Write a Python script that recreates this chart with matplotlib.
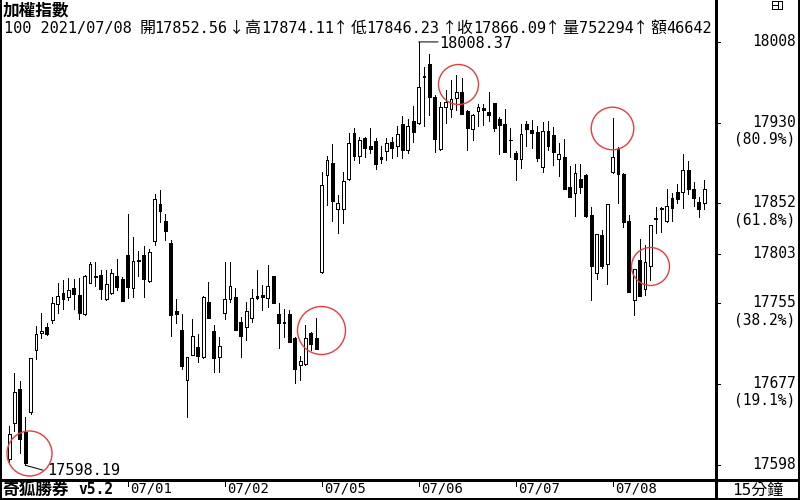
import matplotlib
matplotlib.use('Agg')
import matplotlib.pyplot as plt
from matplotlib.patches import Rectangle
from matplotlib.lines import Line2D

plt.rcParams['font.family'] = ['DejaVu Sans Mono', 'Noto Sans CJK TC']

# ---------------- data (15-minute bars) ----------------
opens = [17604, 17639, 17672, 17630, 17650, 17710, 17726, 17732, 17739, 17754,
         17765, 17761, 17770, 17763, 17745, 17775, 17781, 17783, 17759, 17765,
         17782, 17779, 17802, 17770, 17797, 17802, 17777, 17815, 17851, 17835,
         17814, 17748, 17729, 17681, 17705, 17713, 17703, 17756, 17728, 17703,
         17746, 17759, 17761, 17737, 17732, 17741, 17762, 17763, 17760, 17782,
         17745, 17737, 17745, 17721, 17695, 17696, 17726, 17721, 17785, 17879,
         17891, 17846, 17846, 17876, 17920, 17898, 17915, 17908, 17912, 17897,
         17903, 17911, 17908, 17929, 17904, 17932, 17930, 17975, 17987, 17955,
         17905, 17945, 17943, 17954, 17960, 17941, 17924, 17941, 17944, 17940,
         17949, 17934, 17929, 17913, 17901, 17895, 17929, 17923, 17921, 17887,
         17922, 17918, 17895, 17897, 17868, 17862, 17876, 17879, 17841, 17784,
         17821, 17793, 17882, 17905, 17880, 17835, 17758, 17797, 17769, 17791,
         17837, 17846, 17835, 17857, 17863, 17863, 17884, 17866, 17853, 17852.56]
highs = [17636, 17688, 17680, 17645, 17702, 17733, 17746, 17736, 17761, 17775,
         17778, 17780, 17779, 17780, 17783, 17795, 17795, 17787, 17787, 17788,
         17798, 17781, 17842, 17819, 17806, 17811, 17808, 17861, 17865, 17842,
         17816, 17759, 17745, 17703, 17740, 17725, 17762, 17776, 17734, 17722,
         17795, 17795, 17770, 17742, 17756, 17769, 17787, 17773, 17792, 17782,
         17755, 17750, 17749, 17722, 17704, 17734, 17727, 17741, 17882, 17898,
         17909, 17860, 17882, 17920, 17925, 17916, 17916, 17925, 17915, 17908,
         17915, 17916, 17927, 17937, 17934, 17946, 18008.37, 17984, 17997, 17957,
         17950, 17962, 17971, 17976, 17973, 17942, 17939, 17948, 17948, 17960,
         17949, 17936, 17943, 17925, 17903, 17929, 17932, 17933, 17927, 17931,
         17932, 17926, 17910, 17914, 17888, 17890, 17890, 17880, 17848, 17822,
         17826, 17851, 17935, 17907, 17881, 17841, 17788, 17817, 17812, 17831,
         17848, 17848, 17866, 17862, 17871, 17900, 17893, 17873, 17858, 17874.11]
lows = [17601, 17631, 17610, 17598.19, 17648, 17701, 17721, 17724, 17736, 17746,
        17750, 17758, 17750, 17740, 17744, 17775, 17772, 17759, 17758, 17764,
        17768, 17757, 17760, 17761, 17782, 17761, 17776, 17812, 17834, 17816,
        17723, 17736, 17691, 17645, 17705, 17698, 17702, 17741, 17689, 17689,
        17740, 17756, 17729, 17703, 17720, 17737, 17759, 17749, 17752, 17755,
        17712, 17722, 17718, 17678, 17681, 17695, 17710, 17711, 17784, 17850,
        17835, 17823, 17833, 17875, 17894, 17891, 17897, 17901, 17885, 17891,
        17894, 17896, 17898, 17896, 17901, 17911, 17929, 17927, 17938, 17902,
        17904, 17930, 17936, 17942, 17939, 17904, 17913, 17927, 17928, 17932,
        17922, 17900, 17902, 17897, 17875, 17886, 17908, 17906, 17893, 17882,
        17904, 17889, 17878, 17866, 17858, 17840, 17862, 17839, 17758, 17779,
        17789, 17774, 17881, 17852, 17829, 17766, 17744, 17762, 17763, 17778,
        17823, 17824, 17834, 17835, 17852, 17847, 17861, 17849, 17839, 17846.23]
closes = [17628, 17669, 17624, 17600, 17702, 17725, 17728, 17725, 17755, 17762,
          17759, 17768, 17764, 17746, 17782, 17793, 17782, 17769, 17774, 17784,
          17771, 17757, 17771, 17796, 17796, 17779, 17805, 17856, 17845, 17825,
          17744, 17745, 17694, 17703, 17723, 17704, 17761, 17741, 17702, 17714,
          17759, 17772, 17729, 17723, 17748, 17760, 17760, 17761, 17772, 17755,
          17736, 17736, 17718, 17691, 17699, 17721, 17716, 17711, 17870, 17894,
          17854, 17852, 17874, 17910, 17898, 17913, 17906, 17905, 17890, 17895,
          17910, 17906, 17919, 17904, 17927, 17921, 17965, 17974, 17955, 17914,
          17945, 17950, 17953, 17960, 17939, 17925, 17938, 17945, 17942, 17938,
          17925, 17928, 17902, 17913, 17895, 17919, 17924, 17920, 17896, 17922,
          17908, 17902, 17900, 17866, 17858, 17881, 17868, 17840, 17791, 17822,
          17791, 17851, 17897, 17880, 17834, 17766, 17788, 17762, 17795, 17831,
          17838, 17847, 17849, 17847, 17856, 17884, 17866, 17857, 17846, 17866.09]

day_labels = ['07/01', '07/02', '07/05', '07/06', '07/07', '07/08']
day_start_bars = [22, 40, 58, 76, 94, 112]

axis_levels = [18008, 17930, 17852, 17803, 17755, 17677, 17598]
axis_pcts = ['', '(80.9%)', '(61.8%)', '', '(38.2%)', '(19.1%)', '']

high_bar, high_value = 76, 18008.37
low_bar, low_value = 3, 17598.19

circle_bars = [3.6, 57.9, 83.3, 111.8, 118.9]
circle_prices = [17610, 17729, 17968, 17925, 17791]

title = '加權指數'
brand = '奇狐勝券'
version = 'v5.2'
period = '15分鐘'
bar_count = '100'
last_date = '2021/07/08'
volume = 752294
amount = 46642
quote_names = ['開', '高', '低', '收', '量', '額']
quote_arrows = ['↓', '↑', '↑', '↑', '↑', '']

# ---------------- layout ----------------
W, H = 800, 500
fig = plt.figure(figsize=(8, 5), dpi=100)
fig.patch.set_facecolor('white')

def fy(py):
    return 1 - py / H

PX = 0.72            # one pixel in points
SP = 5.389           # pixels per bar
X0 = 9.1             # pixel x of first bar
PLOT_R = 716
PLOT_B = 479
xlim = (-X0 / SP, (PLOT_R - X0) / SP)
ylim = (17584.85, 18049.0)

ax = fig.add_axes([0, 1 - PLOT_B / H, PLOT_R / W, PLOT_B / H])
ax.set_xlim(*xlim)
ax.set_ylim(*ylim)
ax.set_axis_off()

n = len(opens)
idx = list(range(n))
ax.vlines(idx, lows, highs, colors='black', linewidth=PX, antialiased=False, zorder=2)
bw = 0.52
for i in idx:
    o, c = opens[i], closes[i]
    lo, hi = min(o, c), max(o, c)
    up = c >= o
    ax.add_patch(Rectangle((i - bw / 2, lo), bw, hi - lo,
                           facecolor='white' if up else 'black',
                           edgecolor='black', linewidth=PX,
                           antialiased=False, zorder=3))

# circles
red = '#e83c3c'
circle_px = [22.5, 24, 20, 21.3, 19]
for cx, cy, r in zip(circle_bars, circle_prices, circle_px):
    ax.plot([cx], [cy], 'o', ms=2 * r * PX, mfc='none', mec=red, mew=1.0, zorder=6)

# high / low labels
ax.annotate(f'{high_value:.2f}', xy=(high_bar, high_value), xytext=(21, -6),
            textcoords='offset pixels', ha='left', va='baseline', fontsize=11)
ax.annotate('', xy=(high_bar, high_value), xytext=(high_bar + 3.6, high_value),
            arrowprops=dict(arrowstyle='-', lw=PX, color='black',
                            shrinkA=0, shrinkB=0))
ax.annotate(f'{low_value:.2f}', xy=(low_bar, low_value), xytext=(21.5, -10),
            textcoords='offset pixels', ha='left', va='baseline', fontsize=11)
ax.annotate('', xy=(low_bar, low_value), xytext=(18, -5),
            textcoords='offset pixels',
            arrowprops=dict(arrowstyle='-', lw=PX, color='black',
                            shrinkA=0, shrinkB=0))

# right price axis
axr = fig.add_axes([PLOT_R / W, 1 - PLOT_B / H, (W - PLOT_R) / W, PLOT_B / H])
axr.set_xlim(0, W - PLOT_R)
axr.set_ylim(*ylim)
axr.set_axis_off()
axr.hlines(axis_levels, 0, 4, colors='black', linewidth=PX, antialiased=False)
for lvl, pct in zip(axis_levels, axis_pcts):
    axr.annotate(str(lvl), xy=(79.5, lvl), xytext=(0, -4), textcoords='offset pixels',
                 ha='right', va='baseline', fontsize=10.5)
    if pct:
        axr.annotate(pct, xy=(79.5, lvl), xytext=(0, -21), textcoords='offset pixels',
                     ha='right', va='baseline', fontsize=10.5)

# date axis
axd = fig.add_axes([0, 0, PLOT_R / W, (H - PLOT_B) / H])
axd.set_xlim(*xlim)
axd.set_ylim(H - PLOT_B, 0)
axd.set_axis_off()
axd.vlines(day_start_bars, 2, 7, colors='black', linewidth=PX, antialiased=False)
for b, lab in zip(day_start_bars, day_labels):
    axd.text(b + 2.0 / SP, 14, lab, ha='left', va='baseline', fontsize=10)

# header texts
fig.text(3 / W, fy(15), title, ha='left', va='baseline', fontsize=12,
         fontweight='bold', family=['Noto Sans CJK TC'])
fig.text(4 / W, fy(33), f'{bar_count} {last_date}', ha='left', va='baseline', fontsize=11)
quote_vals = [f'{opens[-1]:.2f}', f'{highs[-1]:.2f}', f'{lows[-1]:.2f}',
              f'{closes[-1]:.2f}', str(volume), str(amount)]
name_x = [139.3, 244.3, 350.7, 456, 562.7, 650]
value_x = [154, 260.7, 366.5, 472.7, 579.3, 666]
arrow_x = [229, 332.5, 441.5, 545, 633, None]
for nx, vx, axp, nm, v, ar in zip(name_x, value_x, arrow_x, quote_names,
                                  quote_vals, quote_arrows):
    fig.text(nx / W, fy(33), nm, ha='left', va='baseline', fontsize=11.5,
             family=['Noto Sans CJK TC'])
    fig.text(vx / W, fy(33), v, ha='left', va='baseline', fontsize=11)
    if ar:
        fig.text(axp / W, fy(33), ar, ha='left', va='baseline', fontsize=11,
                 family=['Noto Sans CJK TC'])

# footer texts
fig.text(2 / W, fy(495), brand, ha='left', va='baseline', fontsize=12,
         fontweight='bold', family=['Noto Sans CJK TC'])
fig.text(78 / W, fy(494), version, ha='left', va='baseline', fontsize=10.5,
         fontweight='bold')
fig.text(758 / W, fy(495), period, ha='center', va='baseline', fontsize=11.5)

# frame lines
def fline(x1, y1, x2, y2, lw=1.0):
    fig.add_artist(Line2D([x1 / W, x2 / W], [fy(y1), fy(y2)], color='black',
                          linewidth=lw * PX, antialiased=False))

fline(0.5, 0, 0.5, 500, 1.5)
fline(0, 499, 800, 499, 2)
fline(798.5, 0, 798.5, 500, 1.5)
fline(716, 0, 716, 500, 1.2)
fline(0, 479.5, 800, 479.5, 1.2)
# small window icon
fline(771.5, 0.5, 781.5, 0.5)
fline(771.5, 9.3, 781.5, 9.3)
fline(771.5, 0.5, 771.5, 9.3)
fline(781.5, 0.5, 781.5, 9.3)
fline(777.5, 0.5, 777.5, 9.3)
fline(771.5, 5, 777.5, 5)

fig.savefig('out.png', dpi=100, facecolor='white')
